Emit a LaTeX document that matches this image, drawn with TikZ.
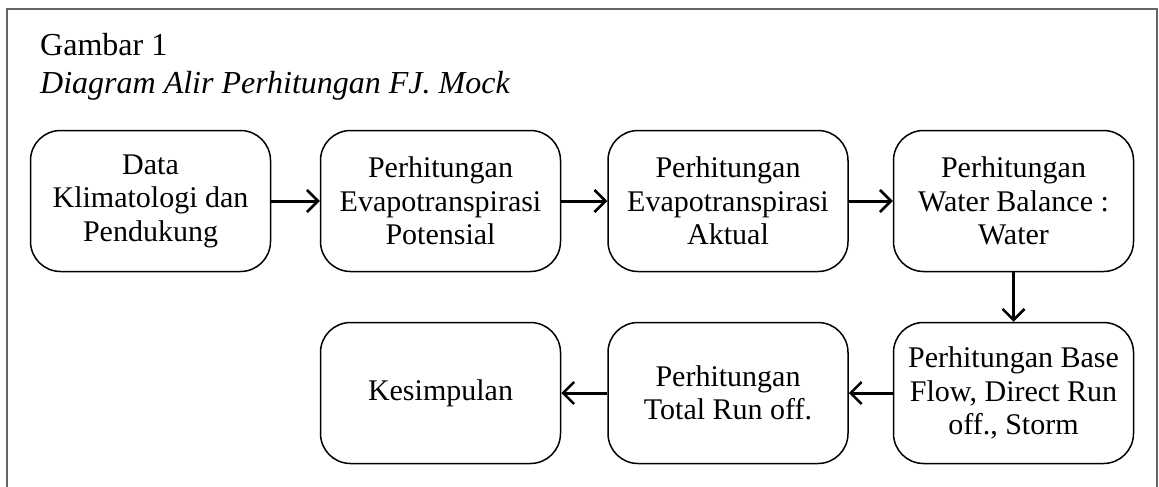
\documentclass[tikz,border=0pt]{standalone}
\usepackage{fontspec}
\setmainfont{Liberation Serif}
\usetikzlibrary{arrows.meta}
\begin{document}
\begin{tikzpicture}[x=1pt,y=-1pt,
  stepbox/.style={draw=black, line width=1.5pt, rounded corners=30pt,
    minimum width=240pt, minimum height=141pt, align=center,
    font=\fontsize{30pt}{33.5pt}\selectfont, inner sep=2pt},
  flow/.style={line width=3pt, -{Straight Barb[length=11pt,width=22pt,line width=2.6pt]}},
  title/.style={anchor=base west, inner sep=0pt, font=\fontsize{32pt}{36pt}\selectfont}]
\useasboundingbox (0,0) rectangle (1159,487);
\draw[line width=2pt, gray!80!black] (7,487) -- (7,9) -- (1157,9) -- (1157,487);
\node[title] (t1) at (40,56) {Gambar 1};
\node[title] (t2) at (40,93) {\itshape Diagram Alir Perhitungan FJ. Mock};
\node[stepbox] (b1) at (150.5,201) {Data\\Klimatologi dan\\Pendukung};
\node[stepbox] (b2) at (440.5,201) {Perhitungan\\Evapotranspirasi\\Potensial};
\node[stepbox] (b3) at (728,201) {Perhitungan\\Evapotranspirasi\\Aktual};
\node[stepbox] (b4) at (1013.5,201) {Perhitungan\\Water Balance :\\Water};
\node[stepbox] (b5) at (1013.5,393) {Perhitungan Base\\Flow, Direct Run\\off., Storm};
\node[stepbox] (b6) at (728,393) {Perhitungan\\Total Run off.};
\node[stepbox] (b7) at (440.5,393) {Kesimpulan};
\draw[flow] (b1) -- (b2);
\draw[flow] (b2) -- (b3);
\draw[flow] (b3) -- (b4);
\draw[flow] (b4) -- (b5);
\draw[flow] (b5) -- (b6);
\draw[flow] (b6) -- (b7);
\end{tikzpicture}
\end{document}
